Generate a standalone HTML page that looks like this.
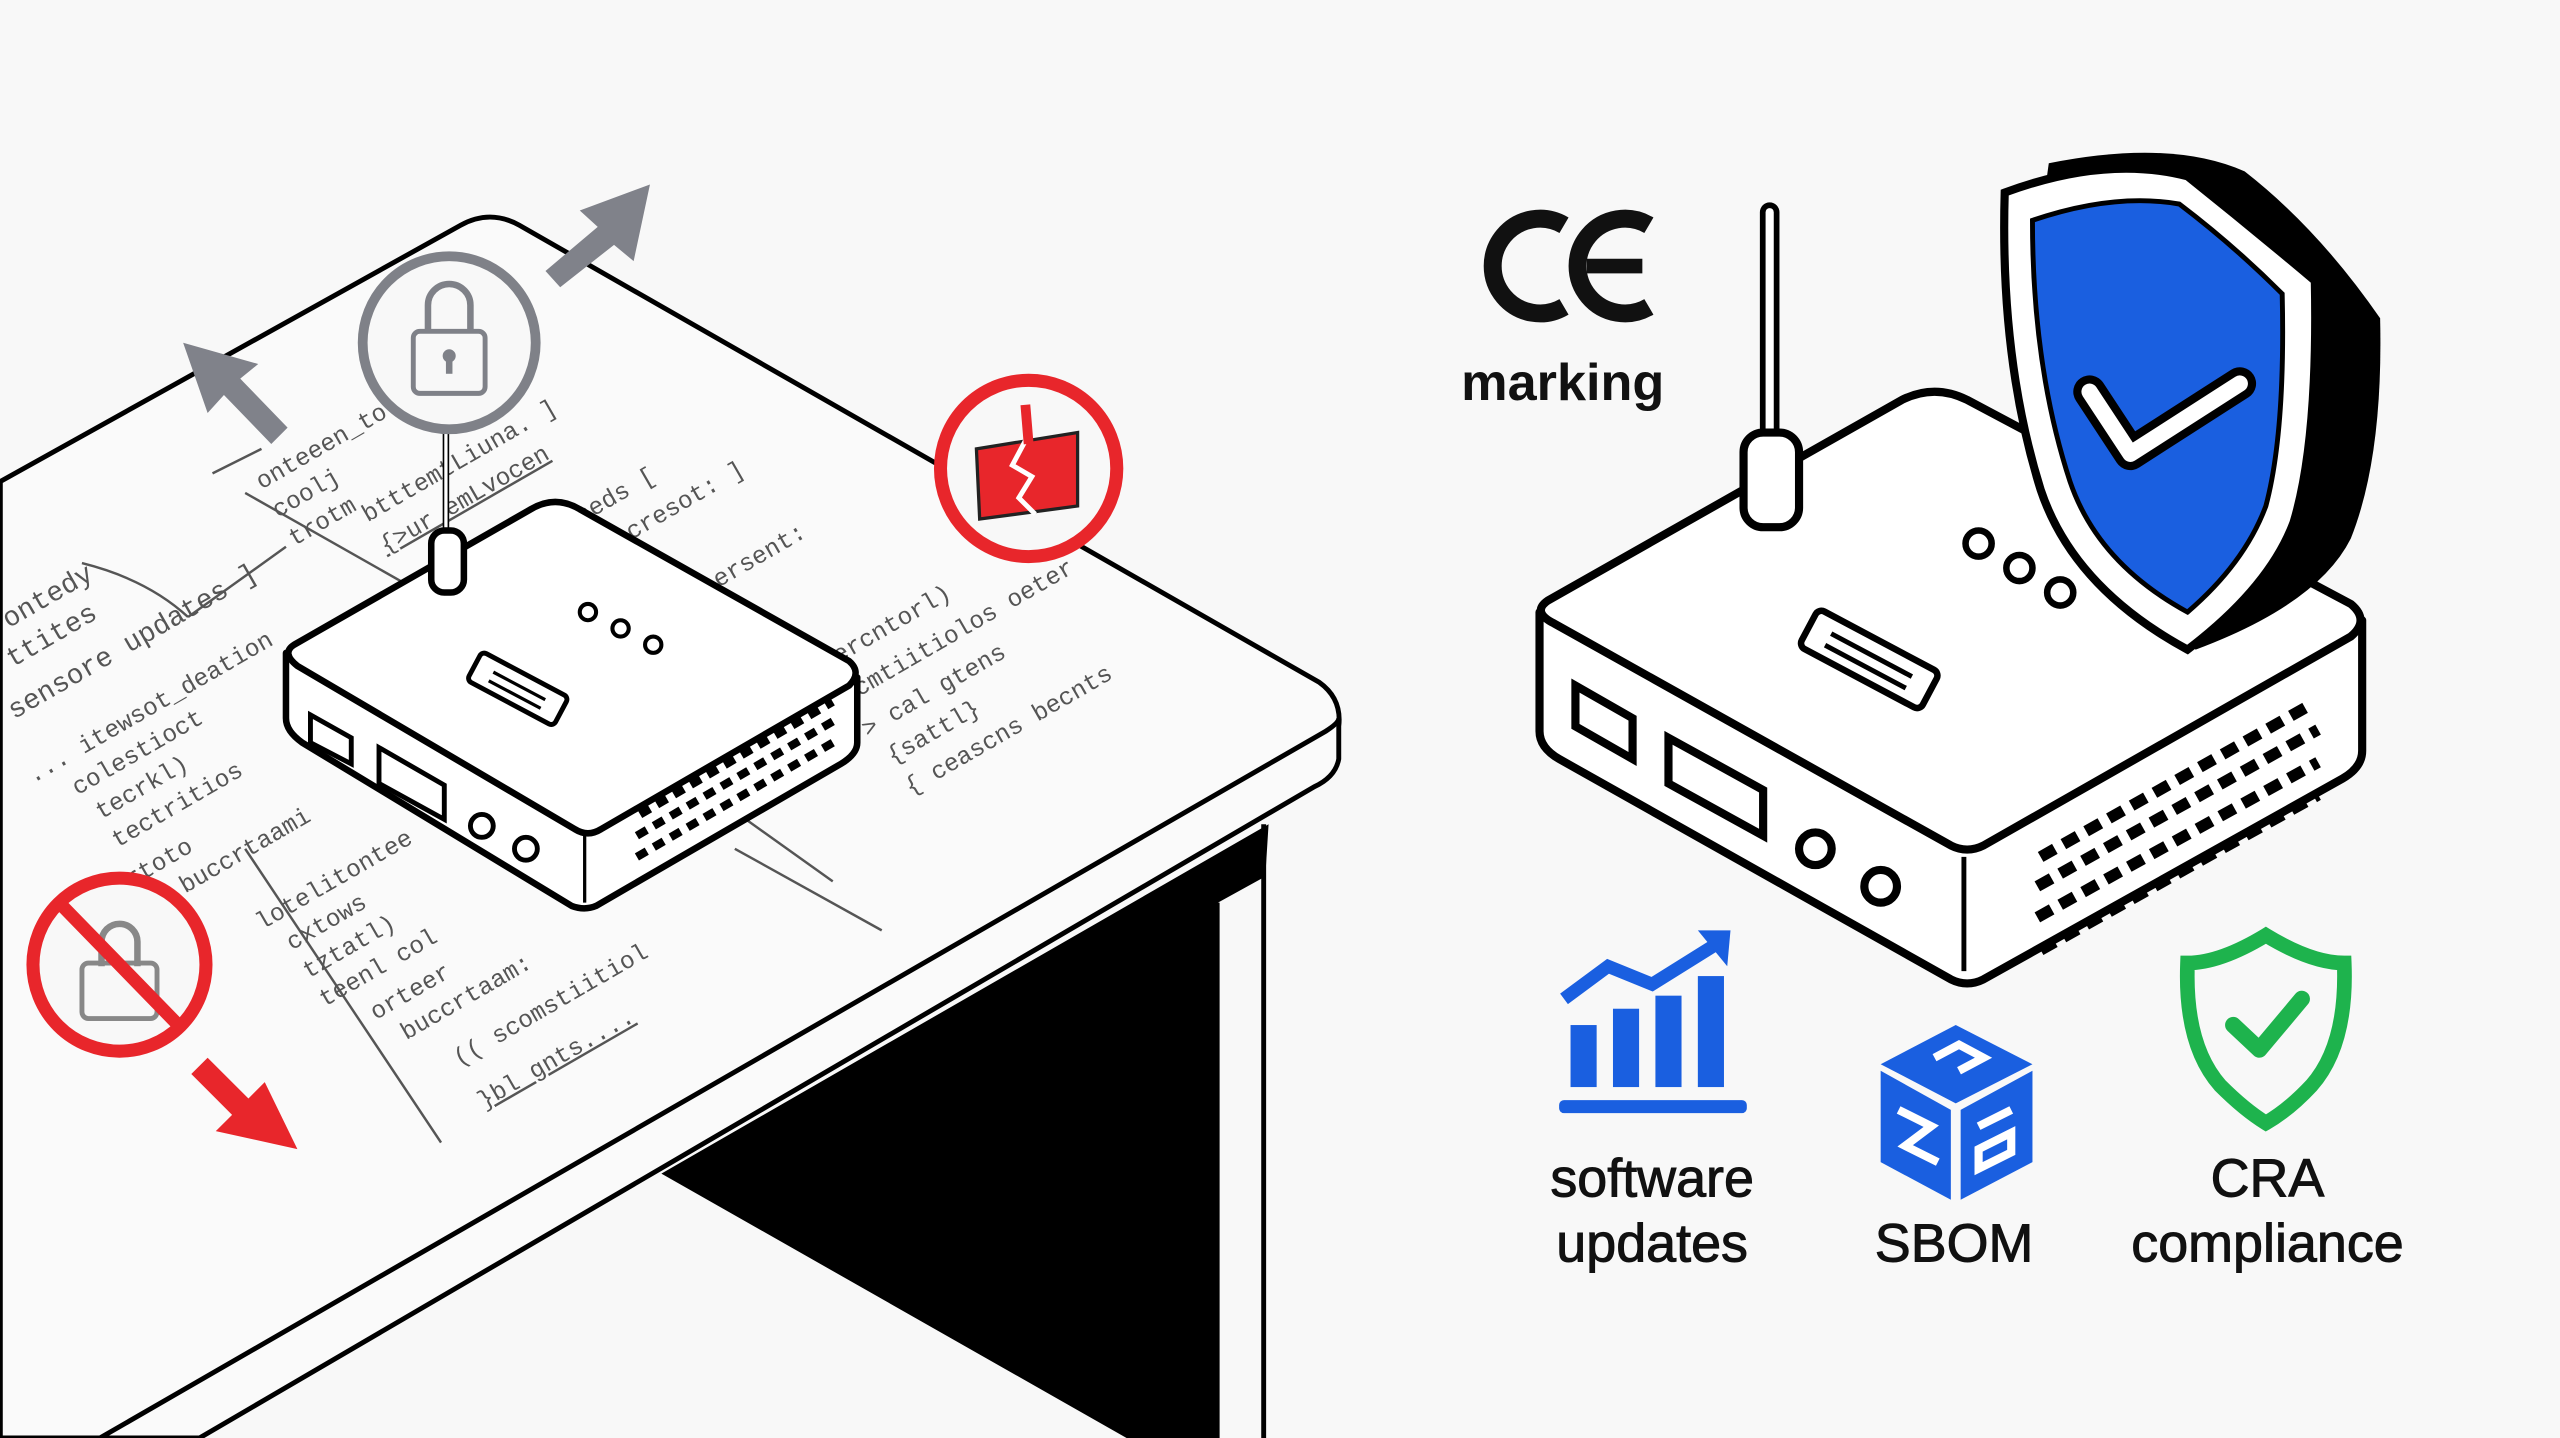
<!DOCTYPE html>
<html><head><meta charset="utf-8"><style>
html,body{margin:0;padding:0;background:#f8f8f8;}
svg{display:block}
</style></head><body>
<svg width="2560" height="1438" viewBox="0 0 1568 881" xmlns="http://www.w3.org/2000/svg">
<rect width="1568" height="881" fill="#f8f8f8"/>
<!-- table top -->
<path d="M0,295 L282,138 Q300,128 318,138 L808,418 Q822,428 820,445 L820,465 Q818,476 805,482 L122,881 L0,881 Z" fill="#fafafa" stroke="#000" stroke-width="3" stroke-linejoin="round"/>
<path d="M61,881 L812,448 Q820,443 820,440" fill="none" stroke="#000" stroke-width="3"/>
<!-- table leg black -->
<polygon points="405,719 777,505 775,537 746,553 746,881 690,881" fill="#000"/>
<rect x="746" y="553" width="27" height="330" fill="#f8f8f8"/>
<line x1="774" y1="505" x2="774" y2="881" stroke="#000" stroke-width="3"/>
<line x1="746" y1="553" x2="746" y2="881" stroke="#000" stroke-width="2"/>
<!-- scribble text -->
<g font-family="Liberation Mono, monospace" font-size="15" fill="#555">
<g transform="translate(160,300) rotate(-30)"><text>onteeen_to</text><text y="20">coolj</text><text y="40">trotm</text></g>
<g transform="translate(225,320) rotate(-30)"><text>btttemtLiuna. ]</text><text y="22" text-decoration="underline">{&gt;ur emLvocen</text></g>
<g transform="translate(340,330) rotate(-30)"><text>echeds  [</text><text x="40" y="24">cresot: ]</text></g>
<g transform="translate(5,385) rotate(-30)" font-size="17"><text>ontedy</text><text x="-10" y="22">ttites</text><text x="-25" y="50">sensore updates ]</text></g>
<g transform="translate(20,480) rotate(-30)"><text>... itewsot_deation</text><text x="20" y="20">colestioct</text><text x="25" y="40">tecrkl)</text><text x="25" y="60">tectritios</text><text x="20" y="85">rtoto</text><text x="20" y="105">(( buccrtaami</text></g>
<g transform="translate(160,570) rotate(-30)"><text>lotelitontee</text><text x="10" y="20">cxtows</text><text x="10" y="40">tztatl)</text><text x="10" y="60">teenl col</text></g>
<g transform="translate(230,625) rotate(-30)"><text>orteer</text><text x="10" y="20">buccrtaam:</text><text x="30" y="50">(( scomstiitiol</text><text x="30" y="80" text-decoration="underline">}bl gnts....</text></g>
<g transform="translate(440,360) rotate(-30)"><text>ersent:</text></g>
<g transform="translate(490,420) rotate(-30)"><text>(xsercntorl)</text><text x="10" y="24">cecmtiitiolos oeter</text><text x="20" y="48">&gt; cal gtens</text><text x="25" y="70">{sattl}</text><text x="25" y="92">{ ceascns becnts</text></g>
</g>
<g stroke="#555" stroke-width="1.5" fill="none">
<line x1="130" y1="290" x2="160" y2="275"/><line x1="150" y1="302" x2="270" y2="370"/>
<path d="M50,345 Q90,355 115,378"/><line x1="115" y1="378" x2="175" y2="335"/>
<line x1="440" y1="490" x2="510" y2="540"/><line x1="150" y1="520" x2="270" y2="700"/>
<line x1="450" y1="520" x2="540" y2="570"/>
</g>
<!-- arrows gray -->
<polygon points="398,113 388,160 376,150 343,176 334,166 366,139 355,129" fill="#80828a"/>
<polygon points="112,210 158,223 147,232 176,262 166,272 137,242 127,253" fill="#80828a"/>
<!-- lock circle -->
<line x1="273" y1="260" x2="273" y2="330" stroke="#000" stroke-width="4"/>
<line x1="273" y1="260" x2="273" y2="330" stroke="#fff" stroke-width="2"/>
<circle cx="275" cy="210" r="53" fill="#f8f8f8" stroke="#7f8188" stroke-width="6"/>
<path d="M262,205 v-18 a13,13 0 0 1 26,0 v18" fill="none" stroke="#7f8188" stroke-width="4"/>
<rect x="253" y="203" width="44" height="38" rx="4" fill="#f8f8f8" stroke="#7f8188" stroke-width="3"/>
<circle cx="275" cy="218" r="4" fill="#7f8188"/><rect x="273" y="218" width="4" height="11" fill="#7f8188"/>
<!-- left router -->
<g stroke="#000" stroke-width="4" stroke-linejoin="round" fill="#fff">
<path d="M175,400 L360,510 L525,415 L525,455 Q525,462 515,468 L365,555 Q358,558 350,555 L185,455 Q175,448 175,440 Z"/>
<path d="M180,395 L325,312 Q340,303 355,312 L520,405 Q528,412 520,420 L368,508 Q360,513 352,508 L182,408 Q172,400 180,395 Z"/>
<line x1="358" y1="512" x2="358" y2="553" stroke-width="2"/>
</g>
<rect x="264" y="325" width="20" height="38" rx="8" fill="#fff" stroke="#000" stroke-width="4"/>
<g fill="#fff" stroke="#000" stroke-width="2.5"><circle cx="360" cy="375" r="5"/><circle cx="380" cy="385" r="5"/><circle cx="400" cy="395" r="5"/></g>
<g transform="translate(317,422) rotate(28)"><rect x="-30" y="-10" width="60" height="20" rx="3" fill="#fff" stroke="#000" stroke-width="3"/><line x1="-18" y1="-2" x2="18" y2="-2" stroke="#000" stroke-width="2"/><line x1="-18" y1="4" x2="18" y2="4" stroke="#000" stroke-width="2"/></g>
<g fill="#fff" stroke="#000" stroke-width="3"><polygon points="190,438 215,452 215,468 190,455"/><polygon points="232,458 272,481 272,502 232,480"/></g>
<circle cx="295" cy="506" r="7" fill="#fff" stroke="#000" stroke-width="3"/><circle cx="322" cy="520" r="7" fill="#fff" stroke="#000" stroke-width="3"/>
<g stroke="#000" stroke-width="5" stroke-dasharray="7 5"><line x1="390" y1="525" x2="510" y2="455"/><line x1="390" y1="512" x2="510" y2="442"/><line x1="392" y1="499" x2="510" y2="430"/></g>
<!-- red forbidden lock -->
<circle cx="73" cy="591" r="53" fill="#f8f8f8" stroke="#e8262b" stroke-width="8"/>
<path d="M62,592 v-15 a11,11 0 0 1 22,0 v15" fill="none" stroke="#888" stroke-width="4"/>
<rect x="50" y="590" width="46" height="34" rx="4" fill="none" stroke="#888" stroke-width="3"/>
<line x1="36" y1="553" x2="110" y2="629" stroke="#e8262b" stroke-width="8"/>
<polygon points="182,704 132,693 142,683 117,658 127,648 152,673 162,663" fill="#e8262b"/>
<!-- red broken box -->
<circle cx="630" cy="287" r="54" fill="#f8f8f8" stroke="#e8262b" stroke-width="8"/>
<polygon points="598,275 660,265 660,310 600,318" fill="#e8262b" stroke="#222" stroke-width="2"/>
<polyline points="628,270 620,285 632,292 624,305 634,315" fill="none" stroke="#fff" stroke-width="3"/>
<line x1="628" y1="248" x2="630" y2="272" stroke="#e8262b" stroke-width="6"/>
<!-- CE logo -->
<g fill="none" stroke="#111" stroke-width="11">
<path d="M958,138 A29,29 0 1 0 958,188"/>
<path d="M1010,138 A29,29 0 1 0 1010,188"/>
</g>
<line x1="972" y1="163" x2="1006" y2="163" stroke="#111" stroke-width="9"/>
<text x="895" y="245" font-family="Liberation Sans, sans-serif" font-size="32" font-weight="bold" fill="#111">marking</text>
<!-- right router -->
<g stroke="#000" stroke-width="5" stroke-linejoin="round" fill="#fff">
<path d="M943,375 L1205,520 L1447,380 L1447,460 Q1447,470 1435,477 L1215,600 Q1205,605 1195,600 L955,465 Q943,458 943,448 Z"/>
<path d="M948,368 L1165,245 Q1185,235 1205,245 L1440,370 Q1452,380 1440,390 L1215,518 Q1205,523 1195,518 L952,382 Q938,375 948,368 Z"/>
<line x1="1203" y1="525" x2="1203" y2="595" stroke-width="3"/>
</g>
<line x1="1084" y1="130" x2="1084" y2="270" stroke="#000" stroke-width="12" stroke-linecap="round"/>
<line x1="1084" y1="130" x2="1084" y2="270" stroke="#fff" stroke-width="5" stroke-linecap="round"/>
<rect x="1068" y="265" width="34" height="58" rx="12" fill="#fff" stroke="#000" stroke-width="5"/>
<g fill="#fff" stroke="#000" stroke-width="4"><circle cx="1212" cy="333" r="8"/><circle cx="1237" cy="348" r="8"/><circle cx="1262" cy="363" r="8"/></g>
<g transform="translate(1145,404) rotate(28)"><rect x="-42" y="-13" width="84" height="26" rx="4" fill="#fff" stroke="#000" stroke-width="4"/><line x1="-28" y1="-3" x2="28" y2="-3" stroke="#000" stroke-width="3"/><line x1="-28" y1="5" x2="28" y2="5" stroke="#000" stroke-width="3"/></g>
<g fill="#fff" stroke="#000" stroke-width="5"><polygon points="965,420 1000,440 1000,465 965,445"/><polygon points="1022,452 1080,484 1080,512 1022,480"/></g>
<circle cx="1112" cy="520" r="10" fill="#fff" stroke="#000" stroke-width="5"/><circle cx="1152" cy="543" r="10" fill="#fff" stroke="#000" stroke-width="5"/>
<g stroke="#000" stroke-width="7" stroke-dasharray="10 6"><line x1="1250" y1="582" x2="1420" y2="487"/><line x1="1248" y1="562" x2="1420" y2="467"/><line x1="1248" y1="543" x2="1420" y2="447"/><line x1="1250" y1="525" x2="1415" y2="432"/></g>
<!-- shield -->
<path d="M1255,100 Q1330,85 1375,105 Q1420,140 1458,195 Q1460,280 1440,330 Q1420,370 1345,398 Q1280,350 1260,280 Q1240,200 1255,100 Z" fill="#000"/>
<path d="M1228,118 Q1290,95 1340,108 Q1380,140 1418,172 Q1420,270 1405,320 Q1390,360 1340,398 Q1270,360 1250,300 Q1225,220 1228,118 Z" fill="#fff" stroke="#000" stroke-width="5"/>
<path d="M1245,135 Q1295,118 1335,125 Q1368,150 1398,180 Q1400,265 1388,310 Q1375,345 1340,375 Q1285,345 1268,295 Q1245,225 1245,135 Z" fill="#1a5fe0" stroke="#000" stroke-width="3"/>
<polyline points="1280,240 1305,278 1372,235" fill="none" stroke="#000" stroke-width="20" stroke-linejoin="round" stroke-linecap="round"/>
<polyline points="1280,240 1305,278 1372,235" fill="none" stroke="#fff" stroke-width="10" stroke-linejoin="round" stroke-linecap="round"/>
<!-- chart icon -->
<g fill="#1a5fe0">
<rect x="962" y="628" width="16" height="38"/><rect x="988" y="618" width="16" height="48"/><rect x="1014" y="610" width="16" height="56"/><rect x="1040" y="598" width="16" height="68"/>
<rect x="955" y="674" width="115" height="8" rx="3"/>
</g>
<polyline points="958,612 985,592 1012,603 1052,578" fill="none" stroke="#1a5fe0" stroke-width="8"/>
<polygon points="1040,570 1060,570 1058,592" fill="#1a5fe0"/>
<!-- SBOM cube -->
<polygon points="1198,628 1245,652 1198,676 1152,652" fill="#1a5fe0"/>
<polygon points="1152,656 1195,680 1195,735 1152,712" fill="#1a5fe0"/>
<polygon points="1201,680 1245,656 1245,712 1201,735" fill="#1a5fe0"/>
<g fill="none" stroke="#fff" stroke-width="5"><path d="M1163,680 l20,10 l-16,12 l20,10"/><path d="M1212,690 l20,-10 M1212,704 l20,-10 l0,12 l-20,10z"/><path d="M1185,648 l15,-8 l15,8 l-15,8"/></g>
<!-- green shield -->
<path d="M1388,573 Q1360,590 1340,590 Q1338,640 1360,665 Q1375,680 1388,688 Q1402,680 1416,665 Q1438,640 1436,590 Q1416,590 1388,573 Z" fill="none" stroke="#1eb34d" stroke-width="9"/>
<polyline points="1368,628 1384,643 1410,612" fill="none" stroke="#1eb34d" stroke-width="10" stroke-linecap="round" stroke-linejoin="round"/>
<!-- labels -->
<g font-family="Liberation Sans, sans-serif" font-size="33" fill="#111" text-anchor="middle" stroke="#111" stroke-width="0.6">
<text x="1012" y="733">software</text><text x="1012" y="773">updates</text>
<text x="1197" y="773">SBOM</text>
<text x="1389" y="733">CRA</text><text x="1389" y="773">compliance</text>
</g>
</svg>
</body></html>
